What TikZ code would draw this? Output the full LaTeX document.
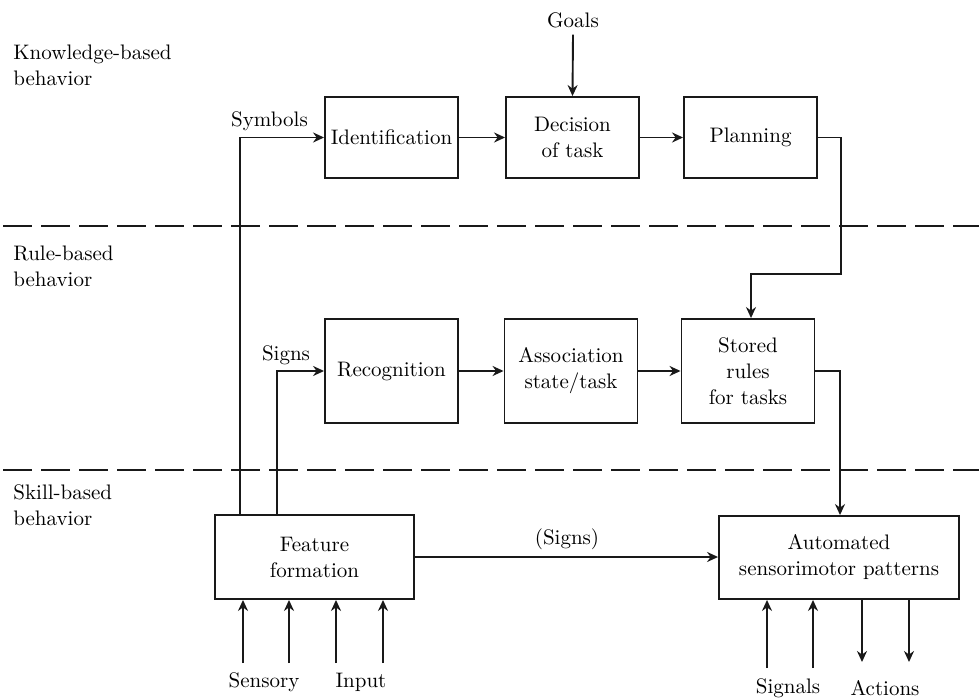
\documentclass[tikz,border=0pt]{standalone}
\usetikzlibrary{arrows.meta,calc}
\begin{document}
\begin{tikzpicture}[x=0.5pt,y=-0.5pt,
  every node/.style={font=\fontsize{10.5}{13}\selectfont, text=black},
  box/.style={draw=black!90, line width=0.95pt, minimum width=66.5pt, minimum height=40.5pt, align=center, inner sep=1pt},
  tall/.style={box, minimum height=52pt},
  arr/.style={draw=black!90, line width=0.95pt, -{Stealth[length=5.5pt,width=5pt]}},
  sep/.style={draw=black!90, line width=0.95pt, dash pattern=on 14.5pt off 4.5pt},
  lab/.style={align=left, anchor=west, inner sep=0pt}]
\useasboundingbox (0,0) rectangle (979,700);

% level labels
\node[lab] (kb) at (13,65) {Knowledge-based\\behavior};
\node[lab] (rb) at (13,266) {Rule-based\\behavior};
\node[lab] (sb) at (13,505) {Skill-based\\behavior};

% separators
\draw[sep] (3,226) -- (979,226);
\draw[sep] (3,470) -- (979,470);

% boxes
\node[box] (ident) at (391.5,137.5) {Identification};
\node[box] (dec) at (572.5,137.5) {Decision\\of task};
\node[box] (plan) at (750.5,137.5) {Planning};
\node[tall] (recog) at (391.5,371) {Recognition};
\node[tall] (assoc) at (571,371) {Association\\state/task};
\node[tall] (stored) at (748,371) {Stored\\rules\\for tasks};
\node[box, minimum width=99.5pt, minimum height=42pt] (feat) at (314.5,557) {Feature\\formation};
\node[box, minimum width=120pt, minimum height=41.5pt] (auto) at (839,557.5) {Automated\\sensorimotor patterns};

% text labels
\node (goals) at (573,20) {Goals};
\node (symb) at (269.5,121) {Symbols};
\node (signs) at (286,355) {Signs};
\node (signs2) at (567,539) {(Signs)};
\node (sens) at (264,682) {Sensory};
\node (inp) at (361,682) {Input};
\node (sig) at (788,688) {Signals};
\node (act) at (885,688) {Actions};

% knowledge level
\draw[arr] (goals.south) -- (dec.north);
\draw[arr] (ident) -- (dec);
\draw[arr] (dec) -- (plan);
\coordinate (p1) at (841,137.5);
\coordinate (p2) at (841,274);
\draw[arr] (plan.east) -- (p1) -- (p2) -| ([xshift=1.5pt]stored.north);

% rule level
\draw[arr] (recog) -- (assoc);
\draw[arr] (assoc) -- (stored);
\coordinate (s1) at (840,371);
\draw[arr] (stored.east) -- (s1) -- (s1 |- auto.north);

% feature outputs
\draw[arr] ([xshift=13pt]feat.north west) |- (ident.west);
\draw[arr] ([xshift=31.5pt]feat.north west) |- (recog.west);
\draw[arr] (feat.east) -- (feat.east -| auto.west);

% sensory inputs
\foreach \x/\n in {243/a,289/b,336/c,383/d}{
  \coordinate (in\n) at (\x,663);
  \draw[arr] (in\n) -- (in\n |- feat.south);
}
% signals and actions
\foreach \x/\n in {767/a,813/b}{
  \coordinate (sg\n) at (\x,668);
  \draw[arr] (sg\n) -- (sg\n |- auto.south);
}
\foreach \x/\n in {862/a,909/b}{
  \coordinate (ac\n) at (\x,662);
  \draw[arr] (ac\n |- auto.south) -- (ac\n);
}
\end{tikzpicture}
\end{document}
